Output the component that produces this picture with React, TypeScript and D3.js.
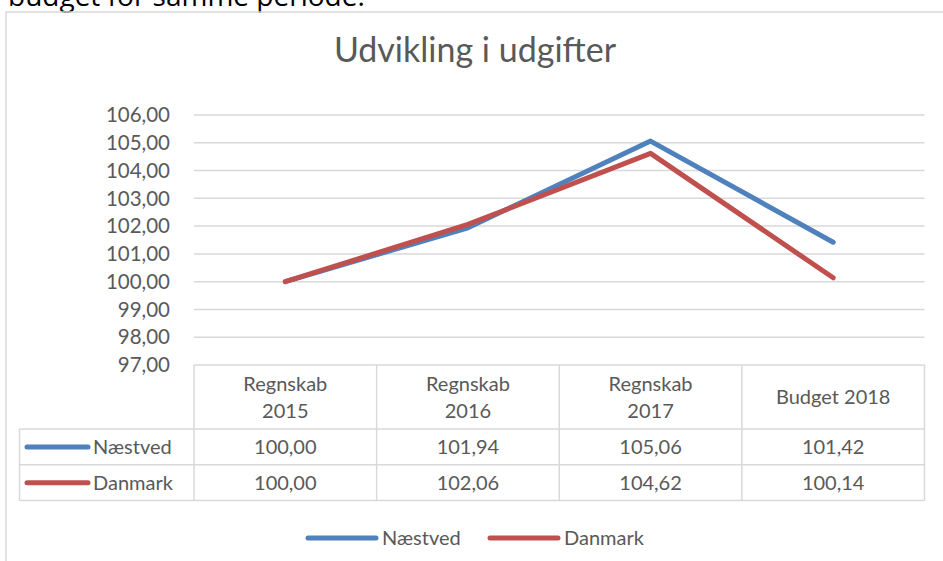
import { useEffect } from "react";
import * as d3 from "d3";

const width = 943;
const height = 561;

const categories = [["Regnskab", "2015"], ["Regnskab", "2016"], ["Regnskab", "2017"], ["Budget 2018"]];
const naestved = [100.0, 101.94, 105.06, 101.42];
const danmark = [100.0, 102.06, 104.62, 100.14];
const yTicks = [97, 98, 99, 100, 101, 102, 103, 104, 105, 106];

const series = [
  { name: "Næstved", values: naestved, color: "#4F81BD" },
  { name: "Danmark", values: danmark, color: "#C0504D" },
];

const fmt = d3.formatLocale({ decimal: ",", thousands: ".", grouping: [3], currency: ["", " kr"] }).format(".2f");

const font = "Lato, 'Open Sans', sans-serif";
const textColor = "#595959";
const gridColor = "#D9D9D9";

// plot area
const plotLeft = 194;
const plotRight = 924.5;
const plotTop = 115;
const plotBottom = 365;
// table rows
const headerBottom = 429;
const rowH = 35.8;
const legendColLeft = 19.5;

const x = d3
  .scaleBand<number>()
  .domain(categories.map((_, i) => i))
  .range([plotLeft, plotRight]);

const y = d3.scaleLinear().domain([97, 106]).range([plotBottom, plotTop]);

const line = d3
  .line<number>()
  .x((_, i) => (x(i) as number) + x.bandwidth() / 2)
  .y((d) => y(d));

export default function App() {
  useEffect(() => {
    document.body.style.margin = "0";
  }, []);

  const colEdges = categories.map((_, i) => x(i) as number).concat([plotRight]);

  return (
    <svg width={width} height={height} style={{ display: "block" }} fontFamily={font}>
      <rect width={width} height={height} fill="white" />
      {/* text from the surrounding document, cut at the top */}
      <text x={8} y={6} fontSize={28} fill="#000" fontFamily="'Open Sans', sans-serif">
        budget for samme periode.
      </text>
      {/* chart frame */}
      <path d={`M6,${height + 5} V12 H${width + 5}`} fill="none" stroke={gridColor} strokeWidth={1.5} />

      <text x={475} y={62} textAnchor="middle" fontSize={34} fill={textColor}>
        Udvikling i udgifter
      </text>

      {/* grid + y labels */}
      {yTicks.map((t) => (
        <g key={t}>
          {t > 97 && <line x1={plotLeft} x2={plotRight} y1={y(t)} y2={y(t)} stroke={gridColor} strokeWidth={1.5} />}
          <text x={170} y={y(t)} dy="0.35em" textAnchor="end" fontSize={20.5} fill={textColor}>
            {fmt(t)}
          </text>
        </g>
      ))}

      {/* data table */}
      <g stroke={gridColor} strokeWidth={1.5} fill="none">
        <line x1={plotLeft} x2={plotRight} y1={plotBottom} y2={plotBottom} />
        <line x1={legendColLeft} x2={plotRight} y1={headerBottom} y2={headerBottom} />
        <line x1={legendColLeft} x2={plotRight} y1={headerBottom + rowH} y2={headerBottom + rowH} />
        <line x1={legendColLeft} x2={plotRight} y1={headerBottom + 2 * rowH} y2={headerBottom + 2 * rowH} />
        <line x1={legendColLeft} x2={legendColLeft} y1={headerBottom} y2={headerBottom + 2 * rowH} />
        {colEdges.map((cx, i) => (
          <line key={i} x1={cx} x2={cx} y1={plotBottom} y2={headerBottom + 2 * rowH} />
        ))}
      </g>
      {categories.map((lines, i) => {
        const cx = (x(i) as number) + x.bandwidth() / 2;
        const mid = (plotBottom + headerBottom) / 2;
        return (
          <text key={i} textAnchor="middle" fontSize={20} fill={textColor}>
            {lines.map((l, j) => (
              <tspan key={j} x={cx} y={mid + (j - (lines.length - 1) / 2) * 27} dy="0.35em">
                {l}
              </tspan>
            ))}
          </text>
        );
      })}
      {series.map((s, r) => {
        const cy = headerBottom + rowH * r + rowH / 2;
        return (
          <g key={s.name}>
            <line x1={27} x2={88} y1={cy} y2={cy} stroke={s.color} strokeWidth={5} strokeLinecap="round" />
            <text x={93} y={cy} dy="0.35em" fontSize={20} fill={textColor}>
              {s.name}
            </text>
            {s.values.map((v, i) => (
              <text key={i} x={(x(i) as number) + x.bandwidth() / 2} y={cy} dy="0.35em" textAnchor="middle" fontSize={20} fill={textColor}>
                {fmt(v)}
              </text>
            ))}
          </g>
        );
      })}

      {/* lines */}
      {series.map((s) => (
        <path key={s.name} d={line(s.values) ?? ""} fill="none" stroke={s.color} strokeWidth={5} strokeLinecap="round" strokeLinejoin="round" />
      ))}

      {/* legend */}
      {series.map((s, i) => {
        const lx = i === 0 ? 308 : 490;
        return (
          <g key={s.name}>
            <line x1={lx} x2={lx + 68} y1={538} y2={538} stroke={s.color} strokeWidth={5} strokeLinecap="round" />
            <text x={lx + 74} y={538} dy="0.35em" fontSize={20} fill={textColor}>
              {s.name}
            </text>
          </g>
        );
      })}
    </svg>
  );
}
